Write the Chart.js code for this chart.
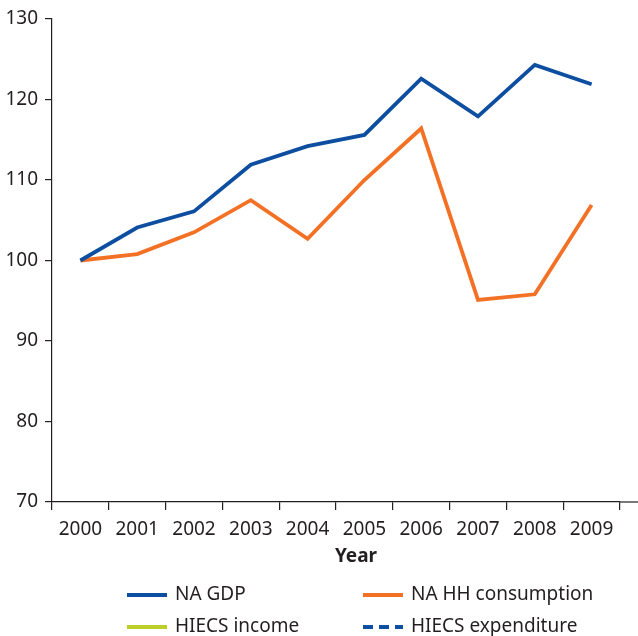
<!DOCTYPE html>
<html>
<head>
<meta charset="utf-8">
<script src="https://cdn.jsdelivr.net/npm/chart.js@4.4.0/dist/chart.umd.min.js"></script>
<style>
  html, body { margin: 0; padding: 0; background: #fff; overflow: hidden; }
  #wrap { width: 638px; height: 636px; }
</style>
</head>
<body>
<div id="wrap"><canvas id="chart" width="638" height="636"></canvas></div>
<script>
// years on the x axis
const years = ['2000', '2001', '2002', '2003', '2004', '2005', '2006', '2007', '2008', '2009'];
// index values (2000 = 100)
const naGdp = [100, 104.1, 106.1, 111.9, 114.2, 115.6, 122.6, 117.9, 124.3, 121.9];
const naHhConsumption = [100, 100.8, 103.5, 107.5, 102.7, 110.0, 116.4, 95.1, 95.8, 106.9];
// survey series appear only in the legend
const hiecsIncome = [null, null, null, null, null, null, null, null, null, null];
const hiecsExpenditure = [null, null, null, null, null, null, null, null, null, null];
const yTicks = [70, 80, 90, 100, 110, 120, 130];

const ink = '#231f20';
const fontFamily = '"Noto Sans", "Open Sans", sans-serif';

// two column legend plus the axis title, drawn under the axis
const bottomBits = {
  id: 'bottomBits',
  afterDraw(chart) {
    const ctx = chart.ctx;
    const area = chart.chartArea;
    ctx.save();
    // axis line runs on to the right edge
    ctx.strokeStyle = ink;
    ctx.lineWidth = 1.2;
    ctx.beginPath();
    ctx.moveTo(area.right, area.bottom);
    ctx.lineTo(chart.width, area.bottom);
    ctx.stroke();

    ctx.fillStyle = ink;
    ctx.font = 'bold 19px ' + fontFamily;
    ctx.textAlign = 'center';
    ctx.textBaseline = 'middle';
    ctx.fillText('Year', 356, 557);

    const cols = [127, 363];
    const rows = [595, 627];
    ctx.font = '19px ' + fontFamily;
    ctx.textAlign = 'left';
    chart.data.datasets.forEach((ds, i) => {
      const x = cols[i % 2];
      const y = rows[Math.floor(i / 2)];
      ctx.strokeStyle = ds.borderColor;
      ctx.lineWidth = 4;
      ctx.setLineDash(ds.borderDash || []);
      ctx.beginPath();
      ctx.moveTo(x, y);
      ctx.lineTo(x + 40, y);
      ctx.stroke();
      ctx.setLineDash([]);
      ctx.fillStyle = ink;
      ctx.fillText(ds.label, x + 48, y);
    });
    ctx.restore();
  }
};

new Chart(document.getElementById('chart'), {
  type: 'line',
  plugins: [bottomBits],
  data: {
    labels: years,
    datasets: [
      { label: 'NA GDP', data: naGdp, borderColor: '#0d4ea0', borderWidth: 3.8 },
      { label: 'NA HH consumption', data: naHhConsumption, borderColor: '#f37125', borderWidth: 3.8 },
      { label: 'HIECS income', data: hiecsIncome, borderColor: '#bdcd2a', borderWidth: 3.8 },
      { label: 'HIECS expenditure', data: hiecsExpenditure, borderColor: '#0d4ea0', borderWidth: 3.8, borderDash: [10, 6] }
    ]
  },
  options: {
    responsive: false,
    animation: false,
    elements: { point: { radius: 0 }, line: { tension: 0, borderCapStyle: 'butt', borderJoinStyle: 'miter' } },
    layout: { padding: { top: 19, right: 18, left: 0, bottom: 0 } },
    plugins: { legend: { display: false }, tooltip: { enabled: false } },
    scales: {
      x: {
        offset: true,
        grid: { offset: true, drawOnChartArea: false, drawTicks: true, tickLength: 8, color: ink, lineWidth: 1.2 },
        border: { display: true, color: ink, width: 1.2 },
        ticks: { color: ink, font: { family: fontFamily, size: 19 }, padding: 8, maxRotation: 0, autoSkip: false },
        afterFit(scale) { scale.height = 134; }
      },
      y: {
        min: yTicks[0],
        max: yTicks[yTicks.length - 1],
        afterBuildTicks(scale) { scale.ticks = yTicks.map(v => ({ value: v })); },
        grid: { drawOnChartArea: false, drawTicks: true, tickLength: 7, color: ink, lineWidth: 1.2 },
        border: { display: true, color: ink, width: 1.2 },
        ticks: { color: ink, font: { family: fontFamily, size: 19 }, padding: 7 },
        afterFit(scale) { scale.width = 52; }
      }
    }
  }
});
</script>
</body>
</html>
